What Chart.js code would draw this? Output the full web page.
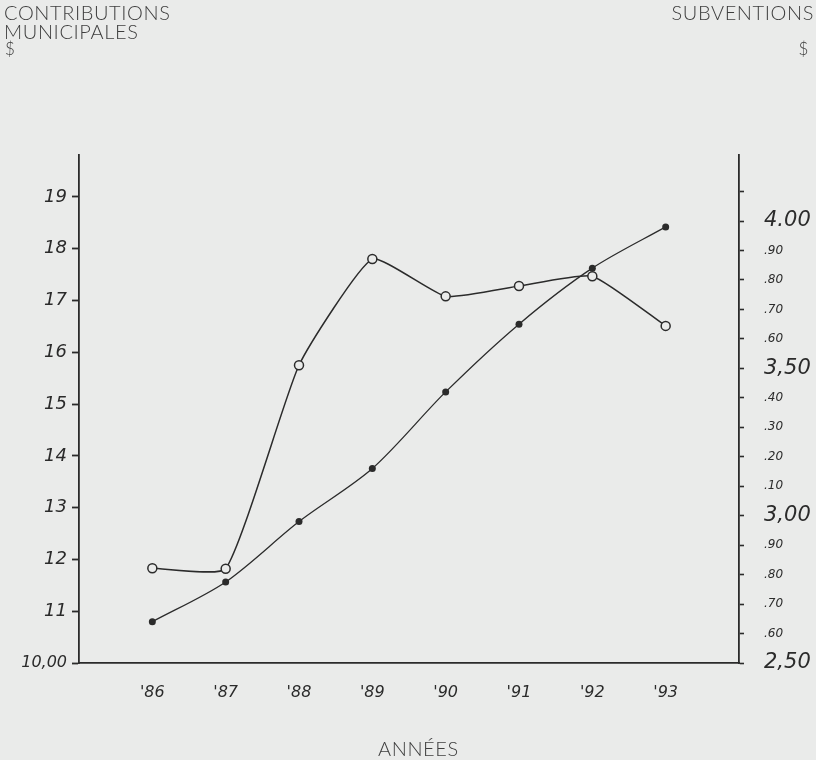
<!DOCTYPE html>
<html>
<head>
<meta charset="utf-8">
<script src="https://cdn.jsdelivr.net/npm/chart.js@4"></script>
<style>
  body { margin: 0; background: #eaebea; }
  #wrap { position: relative; width: 816px; height: 760px; }
  canvas { position: absolute; left: 0; top: 0; }
  .lbl { position: absolute; font-family: Lato, "Open Sans", sans-serif; font-weight: 300; color: #3e3e3e; font-size: 20px; line-height: 20px; letter-spacing: 0.6px; }
</style>
</head>
<body>
<div id="wrap">
  <canvas id="chart" width="816" height="760"></canvas>
  <div class="lbl" style="left:4px; top:2px;">CONTRIBUTIONS</div>
  <div class="lbl" style="left:4px; top:21px;">MUNICIPALES</div>
  <div class="lbl" style="left:5px; top:39px; font-size:17px;">$</div>
  <div class="lbl" style="right:2px; top:2px;">SUBVENTIONS</div>
  <div class="lbl" style="right:7px; top:39px; font-size:17px;">$</div>
  <div class="lbl" style="left:378px; top:738px;">ANNÉES</div>
</div>
<script>
// data
var years = [1986, 1987, 1988, 1989, 1990, 1991, 1992, 1993];
var yearLabels = ["'86", "'87", "'88", "'89", "'90", "'91", "'92", "'93"];
var contributions = [11.83, 11.82, 15.75, 17.8, 17.08, 17.28, 17.47, 16.51];
var subventions = [2.64, 2.775, 2.98, 3.16, 3.42, 3.65, 3.84, 3.98];

var leftTicks = [10, 11, 12, 13, 14, 15, 16, 17, 18, 19];
var leftTickLabels = ["10,00", "11", "12", "13", "14", "15", "16", "17", "18", "19"];
var rightTicks = [2.5, 2.6, 2.7, 2.8, 2.9, 3.0, 3.1, 3.2, 3.3, 3.4, 3.5, 3.6, 3.7, 3.8, 3.9, 4.0, 4.1];
var rightTickLabels = ["2,50", ".60", ".70", ".80", ".90", "3,00", ".10", ".20", ".30", ".40", "3,50", ".60", ".70", ".80", ".90", "4.00", ""];

var ink = '#2b2b2b';
var paper = '#eaebea';

function toPoints(vals) {
    return vals.map(function(v, i) { return { x: years[i], y: v }; });
}

var ctx = document.getElementById('chart').getContext('2d');

var myChart = new Chart(ctx, {
    type: 'line',
    data: {
        datasets: [{
            data: toPoints(contributions),
            yAxisID: 'yLeft',
            borderColor: ink,
            borderWidth: 1.5,
            tension: 0.15,
            pointRadius: 4.5,
            pointBorderWidth: 1.5,
            pointBackgroundColor: paper,
            pointBorderColor: ink
        }, {
            data: toPoints(subventions),
            yAxisID: 'yRight',
            borderColor: ink,
            borderWidth: 1.3,
            tension: 0.3,
            pointRadius: 3.5,
            pointBorderWidth: 0,
            pointBackgroundColor: ink
        }]
    },
    options: {
        responsive: false,
        animation: false,
        layout: { padding: { top: 155, left: 0, right: 0, bottom: 0 } },
        plugins: {
            legend: { display: false },
            tooltip: { enabled: false }
        },
        scales: {
            x: {
                type: 'linear',
                min: 1985,
                max: 1994,
                afterBuildTicks: function(scale) {
                    scale.ticks = years.map(function(y) { return { value: y }; });
                },
                afterFit: function(scale) { scale.height = 97; },
                grid: { display: false, drawOnChartArea: false },
                border: { display: true, color: ink, width: 1.8 },
                ticks: {
                    color: ink,
                    font: { family: '"DejaVu Sans", sans-serif', style: 'italic', size: 16 },
                    padding: 12,
                    maxRotation: 0,
                    callback: function(v) {
                        var i = years.indexOf(v);
                        return i >= 0 ? yearLabels[i] : '';
                    }
                }
            },
            yLeft: {
                position: 'left',
                min: 10,
                max: 19.81,
                afterBuildTicks: function(scale) {
                    scale.ticks = leftTicks.map(function(v) { return { value: v }; });
                },
                afterFit: function(scale) { scale.width = 79; },
                grid: { drawOnChartArea: false, drawTicks: true, tickLength: 7, tickColor: ink, tickWidth: 1.8 },
                border: { display: true, color: ink, width: 1.8 },
                ticks: {
                    color: ink,
                    padding: 5,
                    font: function(c) {
                        return { family: '"DejaVu Sans", sans-serif', style: 'italic', size: c.tick && c.tick.value === 10 ? 16 : 18 };
                    },
                    callback: function(v) {
                        var i = leftTicks.indexOf(v);
                        return i >= 0 ? leftTickLabels[i] : '';
                    }
                }
            },
            yRight: {
                position: 'right',
                min: 2.5,
                max: 4.224,
                afterBuildTicks: function(scale) {
                    scale.ticks = rightTicks.map(function(v) { return { value: v }; });
                },
                afterFit: function(scale) { scale.width = 77; },
                grid: { drawOnChartArea: false, drawTicks: true, tickLength: 5, tickColor: ink, tickWidth: 1.6 },
                border: { display: true, color: ink, width: 1.8 },
                ticks: {
                    color: ink,
                    padding: 20,
                    font: function(c) {
                        var big = c.tick && [2.5, 3.0, 3.5, 4.0].some(function(m) { return Math.abs(m - c.tick.value) < 1e-6; });
                        return { family: '"DejaVu Sans", sans-serif', style: 'italic', size: big ? 21 : 12 };
                    },
                    callback: function(v, i) {
                        return rightTickLabels[i];
                    }
                }
            }
        }
    }
});
</script>
</body>
</html>
